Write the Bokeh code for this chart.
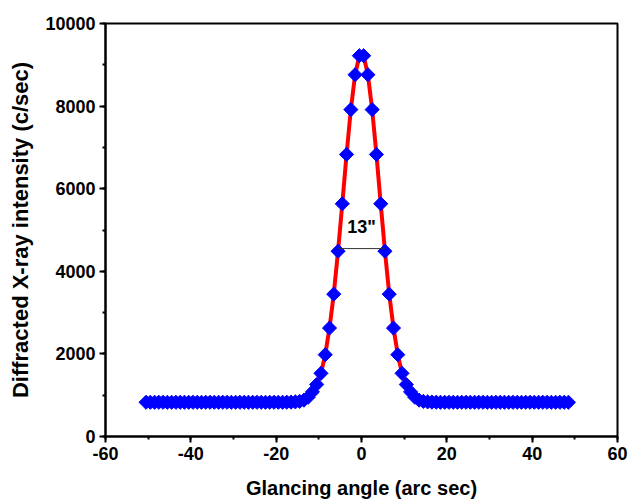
from bokeh.plotting import figure
from bokeh.models import Range1d, SingleIntervalTicker, Label, CustomJSTickFormatter
from bokeh.embed import file_html
from bokeh.resources import INLINE
import math

# ---- data ----
angle = [-50.5, -49.5, -48.5, -47.5, -46.5, -45.5, -44.5, -43.5, -42.5, -41.5,
         -40.5, -39.5, -38.5, -37.5, -36.5, -35.5, -34.5, -33.5, -32.5, -31.5,
         -30.5, -29.5, -28.5, -27.5, -26.5, -25.5, -24.5, -23.5, -22.5, -21.5,
         -20.5, -19.5, -18.5, -17.5, -16.5, -15.5, -14.5, -13.5, -12.5, -11.5,
         -10.5, -9.5, -8.5, -7.5, -6.5, -5.5, -4.5, -3.5, -2.5, -1.5,
         -0.5, 0.5, 1.5, 2.5, 3.5, 4.5, 5.5, 6.5, 7.5, 8.5,
         9.5, 10.5, 11.5, 12.5, 13.5, 14.5, 15.5, 16.5, 17.5, 18.5,
         19.5, 20.5, 21.5, 22.5, 23.5, 24.5, 25.5, 26.5, 27.5, 28.5,
         29.5, 30.5, 31.5, 32.5, 33.5, 34.5, 35.5, 36.5, 37.5, 38.5,
         39.5, 40.5, 41.5, 42.5, 43.5, 44.5, 45.5, 46.5, 47.5, 48.5]
intensity = [828, 828, 828, 828, 828, 828, 828, 828, 828, 828,
             828, 828, 828, 828, 828, 828, 828, 828, 828, 828,
             828, 828, 828, 828, 828, 828, 828, 828, 828, 828,
             828, 828, 828, 830, 832, 838, 850, 880, 950, 1080,
             1260, 1529, 1981, 2626, 3447, 4486, 5635, 6830, 7915, 8760,
             9220, 9220, 8760, 7915, 6830, 5635, 4486, 3447, 2626, 1981,
             1529, 1260, 1080, 950, 880, 850, 838, 832, 830, 828,
             828, 828, 828, 828, 828, 828, 828, 828, 828, 828,
             828, 828, 828, 828, 828, 828, 828, 828, 828, 828,
             828, 828, 828, 828, 828, 828, 828, 828, 828, 828]
fwhm_x = [-5.5, 5.5]
fwhm_y = 4550
fwhm_label = '13"'
x_title = "Glancing angle (arc sec)"
y_title = "Diffracted X-ray intensity (c/sec)"

FONT = "Liberation Sans"

p = figure(width=628, height=503, output_backend="svg", toolbar_location=None,
           x_range=Range1d(-60, 60), y_range=Range1d(0, 10000),
           min_border_left=105, min_border_right=11, min_border_top=23,
           min_border_bottom=67, background_fill_color="white",
           border_fill_color="white")

p.xgrid.visible = False
p.ygrid.visible = False
p.outline_line_color = "black"
p.outline_line_width = 2

p.xaxis.ticker = SingleIntervalTicker(interval=20, num_minor_ticks=2)
p.yaxis.ticker = SingleIntervalTicker(interval=2000, num_minor_ticks=2)

fmt = CustomJSTickFormatter(code="return String(Math.round(tick));")

for ax in (p.xaxis[0], p.yaxis[0]):
    ax.formatter = fmt
    ax.axis_line_width = 2
    ax.axis_line_color = "black"
    ax.major_tick_line_width = 2
    ax.minor_tick_line_width = 2
    ax.major_tick_in = 0
    ax.major_tick_out = 6
    ax.minor_tick_in = 0
    ax.minor_tick_out = 3
    ax.major_label_text_font = FONT
    ax.major_label_text_font_style = "bold"
    ax.major_label_text_font_size = "18px"
    ax.major_label_text_color = "black"
    ax.axis_label_text_font = FONT
    ax.axis_label_text_font_style = "bold"
    ax.axis_label_text_color = "black"
    ax.major_label_standoff = 4

p.xaxis.axis_label = x_title
p.xaxis.axis_label_text_font_size = "20px"
p.xaxis.axis_label_standoff = 14
p.yaxis.axis_label = y_title
p.yaxis.axis_label_text_font_size = "22px"
p.yaxis.axis_label_standoff = 9

p.line(angle, intensity, line_color="red", line_width=4)
p.scatter(angle, intensity, marker="square", angle=math.pi / 4, size=10,
          fill_color="#0000FF", line_color="#0000FF")

p.segment(x0=[fwhm_x[0]], y0=[fwhm_y], x1=[fwhm_x[1]], y1=[fwhm_y],
          line_color="#333333", line_width=1)
p.add_layout(Label(x=0, y=fwhm_y, text=fwhm_label, text_align="center",
                   text_baseline="bottom", y_offset=12, text_font=FONT,
                   text_font_style="bold", text_font_size="18px",
                   text_color="black"))

open("out.html", "w").write(file_html(p, INLINE))
